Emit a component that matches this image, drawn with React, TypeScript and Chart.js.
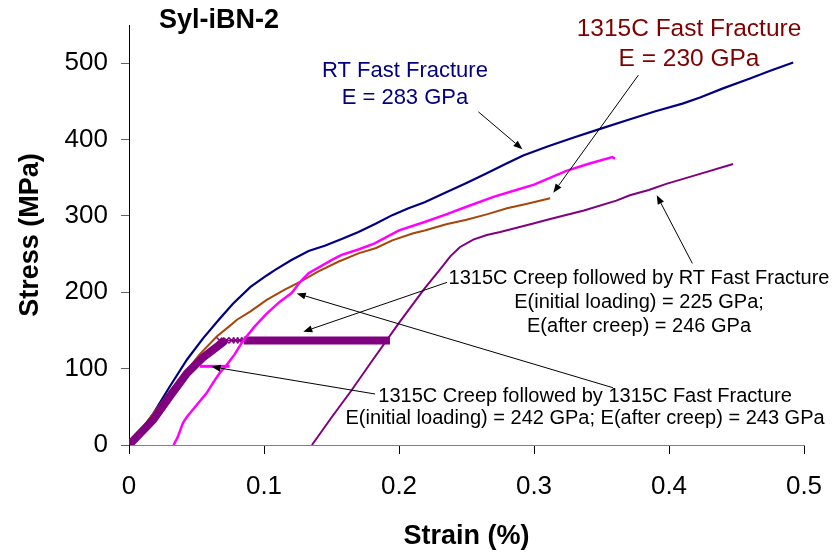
import React, { useEffect, useRef } from 'react';
import { Chart, registerables } from 'chart.js';

Chart.register(...registerables);

const FONT = '"Liberation Sans", Arial, Helvetica, sans-serif';

// ---- axes ----
const xTicks = [0, 0.1, 0.2, 0.3, 0.4, 0.5];
const xTickLabels = ['0', '0.1', '0.2', '0.3', '0.4', '0.5'];
const yTicks = [0, 100, 200, 300, 400, 500];
const yTickLabels = ['0', '100', '200', '300', '400', '500'];
const chartTitle = 'Syl-iBN-2';
const xTitle = 'Strain (%)';
const yTitle = 'Stress (MPa)';

// ---- RT Fast Fracture (navy) ----
const rtStrain = [0, 0.005, 0.018, 0.030, 0.043, 0.055, 0.067, 0.077, 0.090, 0.102, 0.108, 0.120, 0.133, 0.145, 0.158, 0.170, 0.183, 0.195, 0.207, 0.219, 0.235, 0.250, 0.265, 0.280, 0.292, 0.310, 0.330, 0.349, 0.370, 0.390, 0.410, 0.423, 0.440, 0.460, 0.475, 0.492];
const rtStress = [0, 10, 41, 76, 112, 140, 165, 185, 207, 222, 229, 242, 254, 261, 270, 279, 290, 301, 310, 318, 331, 343, 356, 369, 379, 391, 403, 414, 426, 437, 447, 455, 467, 480, 490, 501];

// ---- 1315C Fast Fracture (brown) ----
const hotStrain = [0, 0.010, 0.020, 0.030, 0.042, 0.053, 0.065, 0.074, 0.080, 0.090, 0.102, 0.115, 0.127, 0.140, 0.155, 0.170, 0.183, 0.195, 0.210, 0.219, 0.235, 0.250, 0.265, 0.280, 0.295, 0.312];
const hotStress = [0, 22, 46, 70, 96, 120, 142, 155, 164, 175, 190, 203, 214, 227, 240, 251, 258, 268, 277, 281, 289, 295, 302, 310, 316, 323];

// ---- 1315C Creep followed by 1315C Fast Fracture (magenta) ----
const mgCreepStrain = [0.0526, 0.0745];
const mgCreepStress = [103, 103];
const mgStrain = [0.033, 0.036, 0.040, 0.043, 0.050, 0.0575, 0.0625, 0.0674, 0.072, 0.078, 0.0847, 0.093, 0.102, 0.112, 0.1205, 0.127, 0.133, 0.140, 0.151, 0.1575, 0.170, 0.182, 0.200, 0.219, 0.235, 0.250, 0.270, 0.285, 0.300, 0.324, 0.340, 0.358, 0.360];
const mgStress = [0, 10, 29, 37, 52, 68, 82, 95, 104, 118, 137, 155, 172, 188, 199, 214, 225, 232, 243, 249, 256, 264, 281, 292, 302, 312, 325, 333, 341, 359, 368, 377, 375];

// ---- 1315C Creep followed by RT Fast Fracture (purple) ----
const crLoadStrain = [0, 0.018, 0.030, 0.043, 0.055, 0.064, 0.070];
const crLoadStress = [0, 33, 63, 94, 115, 127, 135];
const crMarkStrain = [0.067, 0.072, 0.076, 0.079, 0.082, 0.085];
const crMarkStress = [137, 137, 137, 137, 137, 137];
const crHoldStrain = [0.085, 0.1933];
const crHoldStress = [137, 137];
const crRtStrain = [0.1355, 0.150, 0.165, 0.180, 0.200, 0.219, 0.230, 0.238, 0.245, 0.255, 0.265, 0.275, 0.2995, 0.312, 0.337, 0.361, 0.371, 0.385, 0.398, 0.423, 0.4475];
const crRtStress = [0, 36, 72, 110, 160, 205, 229, 247, 259, 269, 275, 279, 290, 296, 307, 320, 327, 334, 342, 355, 368];

// ---- annotation texts ----
const rtLabel = ['RT Fast Fracture', 'E = 283 GPa'];
const hotLabel = ['1315C Fast Fracture', 'E = 230 GPa'];
const creepRtLabel = ['1315C Creep followed by RT Fast Fracture', 'E(initial loading) = 225 GPa;', 'E(after creep) = 246 GPa'];
const creepHotLabel = ['1315C Creep followed by 1315C Fast Fracture', 'E(initial loading) = 242 GPa; E(after creep) = 243 GPa'];

const pts = (xs: number[], ys: number[]) => xs.map((x, i) => ({ x, y: ys[i] }));

const labels = [
  { lines: rtLabel, color: '#000080', size: 22, x: 0.2044, ys: [489.5, 454] },
  { lines: hotLabel, color: '#800000', size: 24.5, x: 0.4148, ys: [543.8, 505.2] },
  { lines: creepRtLabel, color: '#000000', size: 20, x: 0.3778, ys: [218.6, 186.5, 155.4] },
  { lines: creepHotLabel, color: '#000000', size: 20, x: 0.3378, ys: [64.1, 34.4] },
];

const arrows = [
  { from: [0.2588, 436.3], to: [0.2914, 387.4] },
  { from: [0.3773, 484.3], to: [0.3143, 330.2] },
  { from: [0.4173, 237.8], to: [0.3909, 327.2] },
  { from: [0.2356, 213.0], to: [0.1291, 148.3] },
  { from: [0.3585, 75.0], to: [0.1242, 198.5] },
  { from: [0.1822, 66.8], to: [0.0612, 102.5] },
];

const annotPlugin = {
  id: 'annot',
  afterDatasetsDraw(chart: any) {
    const { ctx, chartArea } = chart;
    const xs = chart.scales.x;
    const ys = chart.scales.y;
    ctx.save();
    ctx.fillStyle = '#000';
    ctx.font = `bold 27px ${FONT}`;
    ctx.textAlign = 'left';
    ctx.textBaseline = 'middle';
    ctx.fillText(chartTitle, chartArea.left + 30, chartArea.top - 4);

    for (const l of labels) {
      ctx.font = `${l.size}px ${FONT}`;
      ctx.fillStyle = l.color;
      ctx.textAlign = 'center';
      ctx.textBaseline = 'middle';
      l.lines.forEach((t, i) => {
        ctx.fillText(t, xs.getPixelForValue(l.x), ys.getPixelForValue(l.ys[i]));
      });
    }

    ctx.strokeStyle = '#000';
    ctx.fillStyle = '#000';
    ctx.lineWidth = 1;
    for (const a of arrows) {
      const x1 = xs.getPixelForValue(a.from[0]);
      const y1 = ys.getPixelForValue(a.from[1]);
      const x2 = xs.getPixelForValue(a.to[0]);
      const y2 = ys.getPixelForValue(a.to[1]);
      const ang = Math.atan2(y2 - y1, x2 - x1);
      const len = 9;
      const hw = 3.5;
      const bx = x2 - len * Math.cos(ang);
      const by = y2 - len * Math.sin(ang);
      ctx.beginPath();
      ctx.moveTo(x1, y1);
      ctx.lineTo(bx, by);
      ctx.stroke();
      ctx.beginPath();
      ctx.moveTo(x2, y2);
      ctx.lineTo(bx + hw * Math.sin(ang), by - hw * Math.cos(ang));
      ctx.lineTo(bx - hw * Math.sin(ang), by + hw * Math.cos(ang));
      ctx.closePath();
      ctx.fill();
    }
    ctx.restore();
  },
};

export default function App() {
  const ref = useRef<HTMLCanvasElement>(null);

  useEffect(() => {
    if (!ref.current) return;
    const line = (data: any[], color: string, width: number, extra: any = {}) => ({
      data,
      borderColor: color,
      backgroundColor: color,
      borderWidth: width,
      pointRadius: 0,
      fill: false,
      tension: 0,
      ...extra,
    });
    const chart = new Chart(ref.current, {
      type: 'line',
      data: {
        datasets: [
          line(pts(mgCreepStrain, mgCreepStress), '#FF00FF', 3),
          line(pts(mgStrain, mgStress), '#FF00FF', 2.5),
          line(pts(crMarkStrain, crMarkStress), '#800080', 1.5, { pointRadius: 4, pointStyle: 'crossRot', pointBorderWidth: 1.5 }),
          line(pts(crHoldStrain, crHoldStress), '#800080', 8),
          line(pts(crLoadStrain, crLoadStress), '#800080', 8, { borderCapStyle: 'round' }),
          line(pts(crRtStrain, crRtStress), '#800080', 2),
          line(pts(hotStrain, hotStress), '#A8460A', 2),
          line(pts(rtStrain, rtStress), '#000080', 2.2),
        ],
      },
      options: {
        animation: false,
        responsive: false,
        devicePixelRatio: 1,
        layout: { padding: { top: 25, right: 30, left: 0, bottom: 0 } },
        plugins: { legend: { display: false }, tooltip: { enabled: false }, title: { display: false } },
        scales: {
          x: {
            type: 'linear',
            min: 0,
            max: 0.5,
            afterBuildTicks: (s: any) => { s.ticks = xTicks.map((v) => ({ value: v })); },
            afterFit: (s: any) => { s.height = 110; s.paddingLeft = 0; s.paddingRight = 0; },
            ticks: {
              autoSkip: false,
              maxRotation: 0,
              padding: 17,
              color: '#000',
              font: { family: FONT, size: 26 },
              callback: (v: any) => xTickLabels[xTicks.indexOf(Number(v))],
            },
            grid: { drawOnChartArea: false, drawTicks: true, tickLength: 9, color: '#000' },
            border: { display: true, color: '#808080', width: 1 },
            title: { display: true, text: xTitle, color: '#000', font: { family: FONT, size: 27, weight: 'bold' }, padding: { top: 0, bottom: 2 } },
          },
          y: {
            type: 'linear',
            min: 0,
            max: 550,
            afterBuildTicks: (s: any) => { s.ticks = yTicks.map((v) => ({ value: v })); },
            afterFit: (s: any) => { s.width = 129; s.paddingTop = 0; s.paddingBottom = 0; },
            ticks: {
              padding: 13,
              color: '#000',
              font: { family: FONT, size: 26 },
              callback: (v: any) => yTickLabels[yTicks.indexOf(Number(v))],
            },
            grid: { drawOnChartArea: false, drawTicks: true, tickLength: 8, color: '#606060' },
            border: { display: true, color: '#000', width: 1 },
            title: { display: true, text: yTitle, color: '#000', font: { family: FONT, size: 27, weight: 'bold' }, padding: { top: 14, bottom: 0 } },
          },
        },
      } as any,
      plugins: [annotPlugin],
    });
    return () => chart.destroy();
  }, []);

  return (
    <div style={{ position: 'absolute', left: 0, top: 0, width: 834, height: 555, background: '#fff' }}>
      <canvas ref={ref} width={834} height={555} style={{ display: 'block' }} />
    </div>
  );
}
